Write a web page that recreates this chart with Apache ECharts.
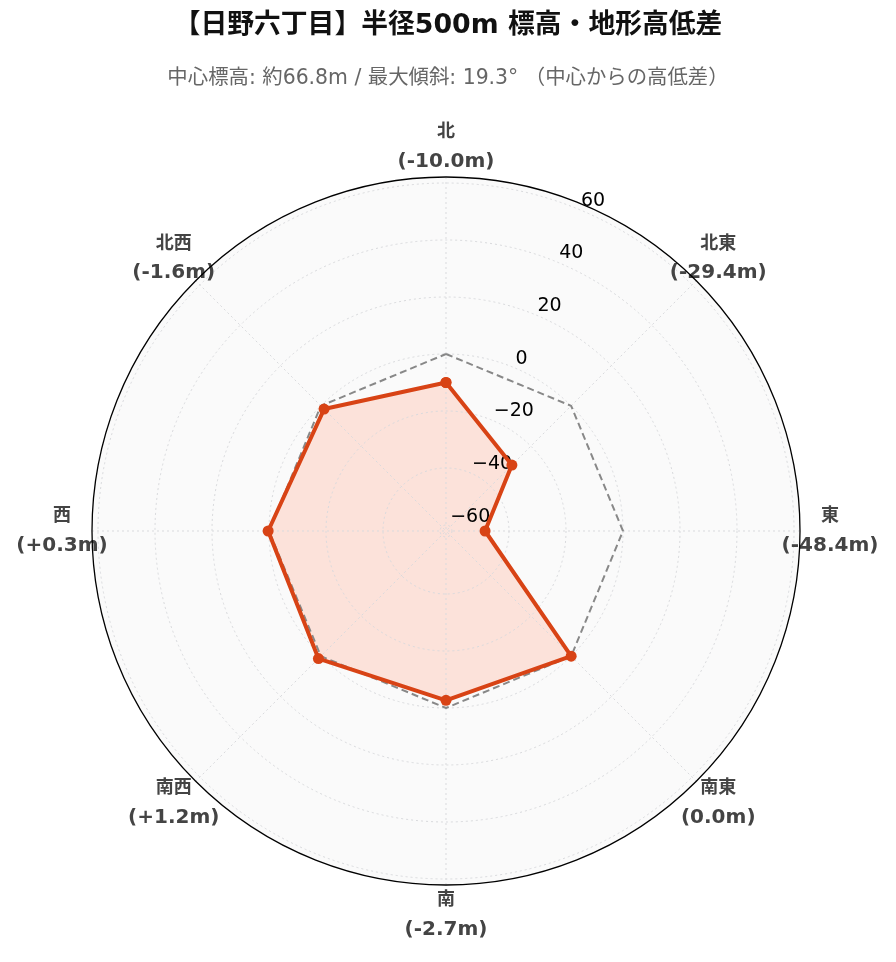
<!DOCTYPE html>
<html><head><meta charset="utf-8">
<script src="https://cdn.jsdelivr.net/npm/echarts@6/dist/echarts.min.js"></script>
<style>html,body{margin:0;padding:0;background:#fff}#c{width:896px;height:962px}</style>
</head><body><div id="c"></div>
<script>
const directions = ['北','北東','東','南東','南','南西','西','北西'];
const elevationDiff = [-10.0, -29.4, -48.4, 0.0, -2.7, 1.2, 0.3, -1.6];
const referenceLevel = [0, 0, 0, 0, 0, 0, 0, 0];
const radialTicks = [-60, -40, -20, 0, 20, 40, 60];
const titleText = '【日野六丁目】半径500m 標高・地形高低差';
const subtitleText = '中心標高: 約66.8m / 最大傾斜: 19.3° （中心からの高低差）';

const FONT = "'DejaVu Sans', 'Noto Sans CJK JP', sans-serif";
const CX = 446, CY = 531;
const R_IN = 6, R_OUT = 348;
const RMIN = radialTicks[0], RMAX = radialTicks[radialTicks.length - 1];
// same scale extended down to the centre (for the area fill)
const RMIN_CENTER = RMIN - R_IN * (RMAX - RMIN) / (R_OUT - R_IN);
const STEP = 360 / directions.length;
const fmtDiff = v => (v > 0 ? '+' + v.toFixed(1) : v.toFixed(1));
const closed = arr => arr.map((v, i) => [v, i * STEP]).concat([[arr[0], 360]]);
const gridLine = {color: '#d9dadd', type: [2, 3], width: 1};

const labelRich = {
  d: {fontFamily: FONT, fontSize: 18, fontWeight: 'bold', color: '#444', lineHeight: 29, width: 58, align: 'center'},
  v: {fontFamily: FONT, fontSize: 20, fontWeight: 'bold', color: '#444', lineHeight: 29, width: 58, align: 'center'}
};
// parity 0 -> cardinal directions, parity 1 -> diagonal directions
const dirLabel = parity => val => {
  const i = Math.round(val / STEP);
  if (i >= directions.length || i % 2 !== parity) return '';
  return '{d|' + directions[i] + '}\n{v|(' + fmtDiff(elevationDiff[i]) + 'm)}';
};
const hiddenAngle = (polarIndex, extra) => Object.assign({
  polarIndex, type: 'value', min: 0, max: 360, interval: STEP, startAngle: 90, clockwise: true,
  axisLine: {show: false}, axisTick: {show: false}, axisLabel: {show: false},
  splitLine: {show: false}, splitArea: {show: false}
}, extra || {});

const chart = echarts.init(document.getElementById('c'), null, {renderer: 'canvas'});
chart.setOption({
  backgroundColor: '#ffffff',
  animation: false,
  title: [
    {text: titleText, left: 'center', top: 8,
     textStyle: {fontFamily: FONT, fontSize: 26.8, fontWeight: 'bold', color: '#111'}},
    {text: subtitleText, left: 'center', top: 64,
     textStyle: {fontFamily: FONT, fontSize: 20.4, fontWeight: 'normal', color: '#666'}}
  ],
  polar: [
    {center: [CX, CY], radius: [0, 354]},       // 0 background
    {center: [CX, CY], radius: [0, 354]},       // 1 outer circle + cardinal labels
    {center: [CX, CY], radius: [0, 354]},       // 2 diagonal labels
    {center: [CX, CY], radius: [0, 354]},       // 3 spokes
    {center: [CX, CY], radius: [R_IN, R_OUT]},  // 4 radial grid + tick labels
    {center: [CX, CY], radius: [R_IN, R_OUT]},  // 5 data lines
    {center: [CX, CY], radius: [0, R_OUT]}      // 6 data area fill
  ],
  angleAxis: [
    hiddenAngle(0, {z: 0, splitArea: {show: true, areaStyle: {color: ['#fafafa']}}}),
    hiddenAngle(1, {z: 6, axisLine: {show: true, lineStyle: {color: '#000', width: 1.3}},
      axisLabel: {show: true, margin: 1, formatter: dirLabel(0), rich: labelRich}}),
    hiddenAngle(2, {z: 6, axisLabel: {show: true, margin: -10, formatter: dirLabel(1), rich: labelRich}}),
    hiddenAngle(3, {z: 2, splitLine: {show: true, lineStyle: gridLine}}),
    {polarIndex: 4, type: 'value', min: 0, max: 360, startAngle: 67.5, show: false},
    hiddenAngle(5, {show: false}),
    hiddenAngle(6, {show: false})
  ],
  radiusAxis: [
    {polarIndex: 0, type: 'value', min: 0, max: 1, show: false},
    {polarIndex: 1, type: 'value', min: 0, max: 1, show: false},
    {polarIndex: 2, type: 'value', min: 0, max: 1, show: false},
    {polarIndex: 3, type: 'value', min: 0, max: 1, show: false},
    {polarIndex: 4, type: 'value', min: RMIN, max: RMAX, interval: 20, z: 2,
     axisLine: {show: false}, axisTick: {show: false},
     splitLine: {show: true, lineStyle: gridLine},
     axisLabel: {show: true, margin: -2, rotate: 0, align: 'left', verticalAlign: 'bottom',
       fontFamily: FONT, fontSize: 19, color: '#000',
       formatter: v => (v < 0 ? '\u2212' + Math.abs(v) : String(v))}},
    {polarIndex: 5, type: 'value', min: RMIN, max: RMAX, show: false},
    {polarIndex: 6, type: 'value', min: RMIN_CENTER, max: RMAX, show: false}
  ],
  series: [
    {type: 'line', coordinateSystem: 'polar', polarIndex: 6, data: closed(elevationDiff),
     symbol: 'none', silent: true, z: 1,
     lineStyle: {width: 0, opacity: 0},
     areaStyle: {origin: 'start', color: '#fce2da', opacity: 1}},
    {type: 'line', coordinateSystem: 'polar', polarIndex: 5, data: closed(referenceLevel),
     symbol: 'none', silent: true, z: 3,
     lineStyle: {color: '#888', width: 2, type: [7, 4]}},
    {type: 'line', coordinateSystem: 'polar', polarIndex: 5, data: closed(elevationDiff),
     symbol: 'circle', symbolSize: 11, z: 4,
     itemStyle: {color: '#d84315'},
     lineStyle: {color: '#d84315', width: 4}}
  ]
});
</script></body></html>
